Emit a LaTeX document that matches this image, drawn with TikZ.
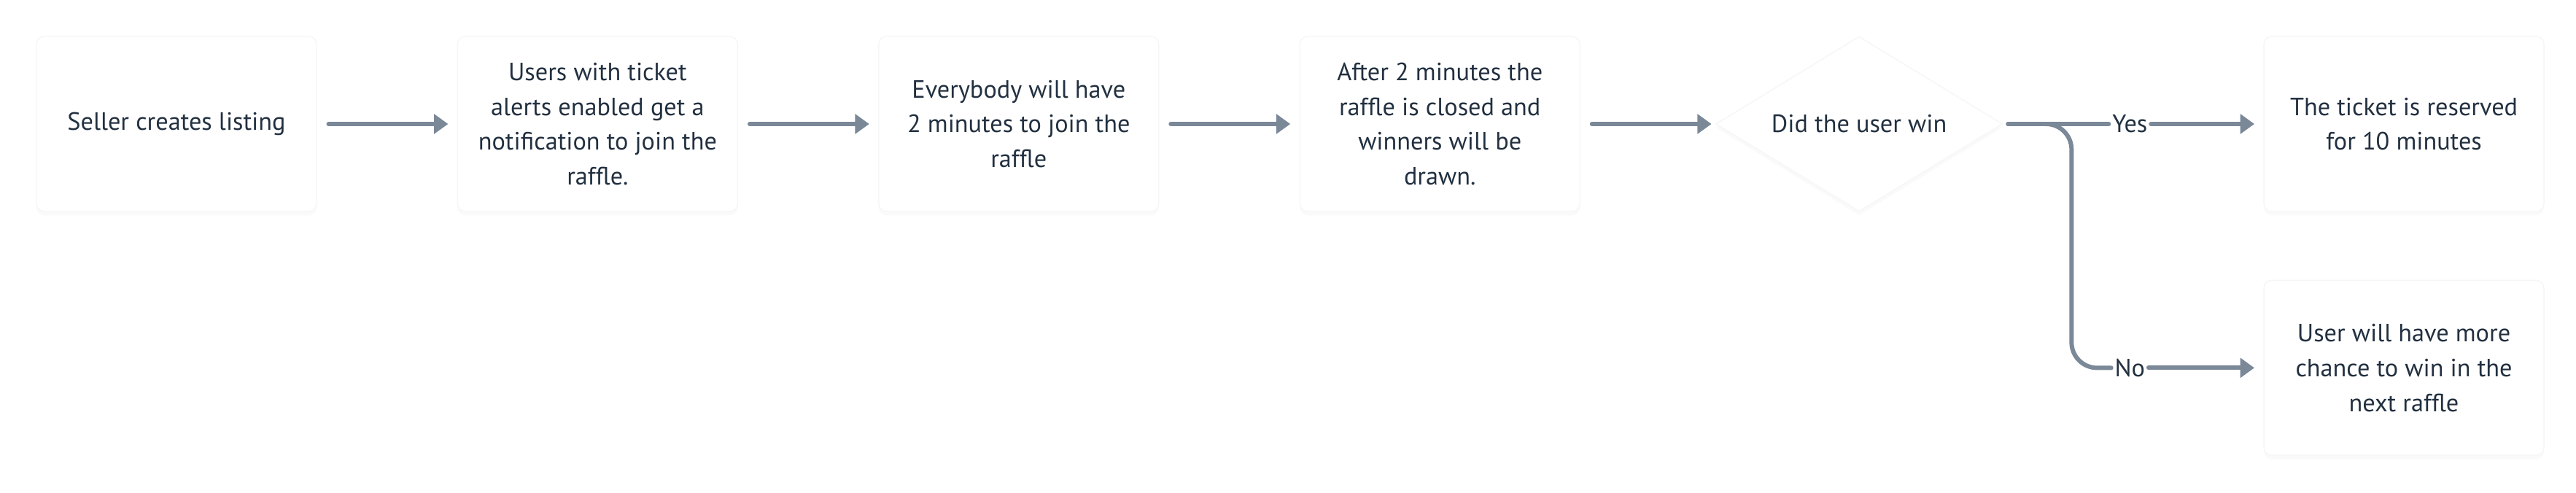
\documentclass[tikz,border=0pt]{standalone}
\usepackage{fontspec}
\setmainfont{PT Sans}
\usetikzlibrary{positioning,shapes.geometric,arrows.meta,shadows}
\definecolor{flowText}{HTML}{223040}
\definecolor{flowGray}{HTML}{7A8898}
\definecolor{flowEdge}{HTML}{F5F6F7}

\begin{document}
\begin{tikzpicture}[
        node distance=1.92cm,
        stepNode/.style={rectangle, draw=flowEdge, fill=white, rounded corners=3pt,
            minimum width=3.84cm, minimum height=2.4cm, inner sep=0pt, align=center,
            text=flowText, font=\fontsize{9.75}{13.6}\selectfont,
            drop shadow={shadow xshift=0pt, shadow yshift=-1.5pt, opacity=0.04}},
        decisionNode/.style={diamond, aspect=1.64, draw=flowEdge, fill=white,
            minimum width=3.93cm, minimum height=2.4cm, inner sep=0pt,
            text=flowText, font=\fontsize{9.75}{13.6}\selectfont,
            drop shadow={shadow xshift=0pt, shadow yshift=-1.5pt, opacity=0.04}},
        labelNode/.style={inner sep=1.2pt, text=flowText, font=\fontsize{9.75}{13.6}\selectfont},
        branchLine/.style={draw=flowGray, line width=1.7pt, line cap=round},
        flowArrow/.style={branchLine, -{Triangle[length=5.5pt, width=7.5pt]},
            shorten <=4.5pt, shorten >=3.5pt}
    ]
        \useasboundingbox (0,0) rectangle (35.32,-6.76);

        % Steps
        \node[stepNode] (seller) at (2.42,-1.70) {Seller creates listing};
        \node[stepNode, right=of seller] (alerts) {Users with ticket\\alerts enabled get a\\notification to join the\\raffle.};
        \node[stepNode, right=of alerts] (join) {Everybody will have\\2 minutes to join the\\raffle};
        \node[stepNode, right=of join] (closed) {After 2 minutes the\\raffle is closed and\\winners will be\\drawn.};
        \node[decisionNode, right=1.85cm of closed] (win) {Did the user win};

        % Outcomes
        \node[stepNode, right=3.57cm of win] (ticket) {The ticket is reserved\\for 10 minutes};
        \node[stepNode, below=0.93cm of ticket] (chance) {User will have more\\chance to win in the\\next raffle};

        % Branch labels
        \node[labelNode, right=1.45cm of win] (yes) {Yes};
        \node[labelNode] (no) at (yes |- chance) {No};

        % Edges
        \draw[flowArrow] (seller) -- (alerts);
        \draw[flowArrow] (alerts) -- (join);
        \draw[flowArrow] (join) -- (closed);
        \draw[flowArrow, shorten >=1.5pt] (closed) -- (win);
        \draw[branchLine, shorten <=2pt] (win) -- (yes);
        \draw[flowArrow, shorten <=0pt] (yes) -- (ticket);
        \draw[branchLine, rounded corners=0.35cm, shorten <=2pt] (win.east) -- ++(0.94,0) |- (no.west);
        \draw[flowArrow, shorten <=0pt] (no) -- (chance);
    \end{tikzpicture}
\end{document}
